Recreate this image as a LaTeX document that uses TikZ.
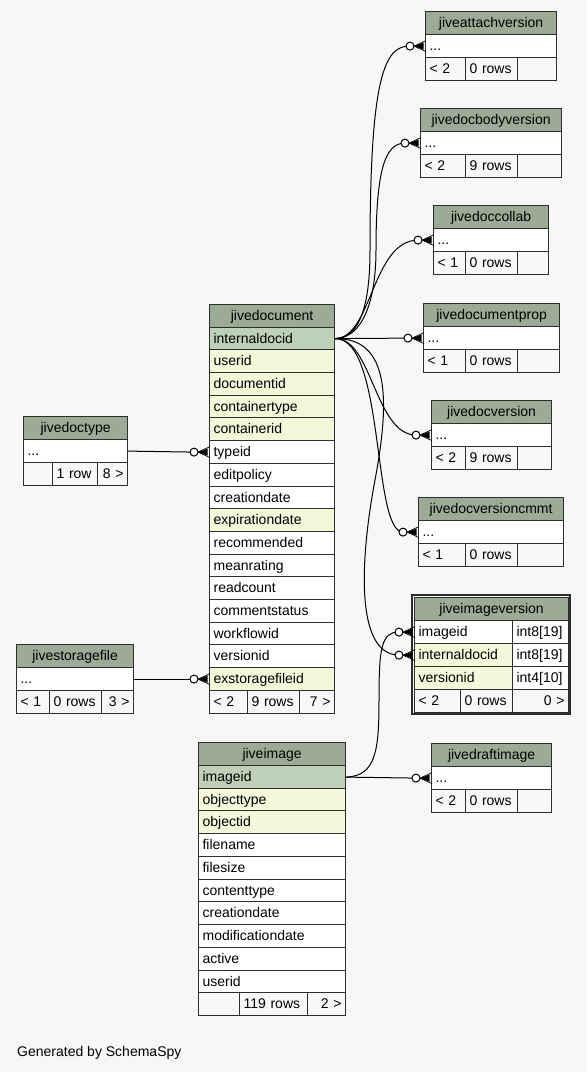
\documentclass[tikz,border=0pt]{standalone}
\usepackage{fontspec}
\setmainfont{Liberation Sans}
\usetikzlibrary{calc}
\definecolor{bgc}{HTML}{F7F7F7}
\definecolor{hdc}{HTML}{9BAB96}
\definecolor{pkc}{HTML}{BED1B8}
\definecolor{fkc}{HTML}{F4F7DA}
\definecolor{bdc}{HTML}{2E2E2E}
\tikzset{
 cellbox/.style={draw=bdc, line width=1.2pt, anchor=north west, inner xsep=4pt, inner ysep=0pt,
   text height=11pt, text depth=2pt, font=\fontsize{14}{16}\selectfont},
 conn/.style={draw=black, line width=1pt},
}
% #1 name #2 x #3 y #4 w #5 h #6 fill #7 align #8 text
\newcommand\tc[8]{%
 \pgfmathsetmacro\tw{#4-8}%
 \node[cellbox, fill=#6, align=#7, text width=\tw pt, minimum height=#5pt] (#1) at (#2,#3) {#8};}
\newcommand\hdr[5]{%
 \pgfmathsetmacro\hh{round(#3+\rh)-#3}%
 \tc{#1-h}{#2}{#3}{#4}{\hh}{hdc}{center}{#5}}
% #1 table #2 index #3 x #4 top #5 w #6 fill #7 text
\newcommand\rowc[7]{%
 \pgfmathsetmacro\yy{round(#4+#2*\rh)}%
 \pgfmathsetmacro\hh{round(#4+(#2+1)*\rh)-\yy}%
 \tc{#1-#2}{#3}{\yy}{#5}{\hh}{#6}{left}{#7}}
\newcommand\smalltab[5]{%
 \hdr{#1}{#2}{#3}{#4}{#5}%
 \rowc{#1}{1}{#2}{#3}{#4}{white}{...}}
% #1 name #2 x0 #3 y #4 d1 #5 d2 #6 x1 #7 t1 #8 t2 #9 t3
\newcommand\foot[9]{%
 \pgfmathsetmacro\fwa{#4-#2}\pgfmathsetmacro\fwb{#5-#4}\pgfmathsetmacro\fwc{#6-#5}%
 \tc{#1-fa}{#2}{#3}{\fwa}{\rh}{bgc}{left}{#7}%
 \tc{#1-fb}{#4}{#3}{\fwb}{\rh}{bgc}{left}{#8}%
 \tc{#1-fc}{#5}{#3}{\fwc}{\rh}{bgc}{right}{#9}}
\newcommand\crowpt[1]{\coordinate (#1-o) at ($(#1.west)+(-15,0)$);}
\newcommand\crow[1]{%
 \draw[conn, fill=white] (#1-o) circle (4pt);
 \fill[black] ($(#1.west)+(-11,0)$) -- ($(#1.west)+(-1.5,-3.5)$) -- ($(#1.west)+(-1.5,3.5)$) -- cycle;
 \draw[black, line width=0.7pt] ($(#1.west)+(-11,0)$) -- ($(#1.west)+(1,-5.5)$)
             ($(#1.west)+(-11,0)$) -- ($(#1.west)+(1,5.5)$);}
\begin{document}
\begin{tikzpicture}[x=1pt,y=-1pt]
\useasboundingbox (0,0) rectangle (587,1072);
\fill[bgc] (0,0) rectangle (587,1072);

\def\rh{23}
\smalltab{att}{425}{11}{131}{jiveattachversion}
\foot{att}{425}{57}{465}{517}{556}{< 2}{0 rows}{}
\smalltab{dbv}{420}{108}{141}{jivedocbodyversion}
\foot{dbv}{420}{154}{465}{517}{561}{< 2}{9 rows}{}
\smalltab{col}{433}{205}{115}{jivedoccollab}
\foot{col}{433}{251}{465}{517}{548}{< 1}{0 rows}{}
\smalltab{dp}{423}{303}{136}{jivedocumentprop}
\foot{dp}{423}{349}{465}{517}{559}{< 1}{0 rows}{}
\smalltab{dv}{431}{400}{120}{jivedocversion}
\foot{dv}{431}{446}{465}{517}{551}{< 2}{9 rows}{}
\smalltab{dvc}{418}{497}{145}{jivedocversioncmmt}
\foot{dvc}{418}{543}{465}{517}{563}{< 1}{0 rows}{}
\smalltab{dfi}{431}{743}{120}{jivedraftimage}
\foot{dfi}{431}{789}{465}{517}{551}{< 2}{0 rows}{}
\smalltab{dt}{23}{416}{104}{jivedoctype}
\foot{dt}{23}{462}{52}{97}{127}{}{1 row}{8 >}
\smalltab{sf}{16}{644}{117}{jivestoragefile}
\foot{sf}{16}{690}{49}{101}{133}{< 1}{0 rows}{3 >}

% jiveimageversion
\hdr{iv}{414}{597}{154}{jiveimageversion}
\tc{iv-1}{414}{620}{98}{23}{white}{left}{imageid}
\tc{iv-1t}{512}{620}{56}{23}{white}{left}{int8[19]}
\tc{iv-2}{414}{643}{98}{23}{fkc}{left}{internaldocid}
\tc{iv-2t}{512}{643}{56}{23}{white}{left}{int8[19]}
\tc{iv-3}{414}{666}{98}{23}{fkc}{left}{versionid}
\tc{iv-3t}{512}{666}{56}{23}{white}{left}{int4[10]}
\foot{iv}{414}{689}{460}{512}{568}{< 2}{0 rows}{0 >}
\draw[bdc, line width=2.5pt] (412,595.2) rectangle (570,714);

% jivedocument
\def\rh{22.7}
\hdr{doc}{209}{304}{125}{jivedocument}
\rowc{doc}{1}{209}{304}{125}{pkc}{internaldocid}
\rowc{doc}{2}{209}{304}{125}{fkc}{userid}
\rowc{doc}{3}{209}{304}{125}{fkc}{documentid}
\rowc{doc}{4}{209}{304}{125}{fkc}{containertype}
\rowc{doc}{5}{209}{304}{125}{fkc}{containerid}
\rowc{doc}{6}{209}{304}{125}{white}{typeid}
\rowc{doc}{7}{209}{304}{125}{white}{editpolicy}
\rowc{doc}{8}{209}{304}{125}{white}{creationdate}
\rowc{doc}{9}{209}{304}{125}{fkc}{expirationdate}
\rowc{doc}{10}{209}{304}{125}{white}{recommended}
\rowc{doc}{11}{209}{304}{125}{white}{meanrating}
\rowc{doc}{12}{209}{304}{125}{white}{readcount}
\rowc{doc}{13}{209}{304}{125}{white}{commentstatus}
\rowc{doc}{14}{209}{304}{125}{white}{workflowid}
\rowc{doc}{15}{209}{304}{125}{white}{versionid}
\rowc{doc}{16}{209}{304}{125}{fkc}{exstoragefileid}
\foot{doc}{209}{690}{247}{299}{334}{< 2}{9 rows}{7 >}

% jiveimage
\def\rh{22.75}
\hdr{img}{198}{742}{147}{jiveimage}
\rowc{img}{1}{198}{742}{147}{pkc}{imageid}
\rowc{img}{2}{198}{742}{147}{fkc}{objecttype}
\rowc{img}{3}{198}{742}{147}{fkc}{objectid}
\rowc{img}{4}{198}{742}{147}{white}{filename}
\rowc{img}{5}{198}{742}{147}{white}{filesize}
\rowc{img}{6}{198}{742}{147}{white}{contenttype}
\rowc{img}{7}{198}{742}{147}{white}{creationdate}
\rowc{img}{8}{198}{742}{147}{white}{modificationdate}
\rowc{img}{9}{198}{742}{147}{white}{active}
\rowc{img}{10}{198}{742}{147}{white}{userid}
\foot{img}{198}{992}{239}{307}{345}{}{119 rows}{2 >}

% crow end points
\crowpt{att-1}\crowpt{dbv-1}\crowpt{col-1}\crowpt{dp-1}\crowpt{dv-1}\crowpt{dvc-1}
\crowpt{dfi-1}\crowpt{iv-1}\crowpt{iv-2}\crowpt{doc-6}\crowpt{doc-16}

% connectors
\draw[conn] (doc-1.east) .. controls (360,338) and (370,305) .. (370,250) .. controls (370,75) and (385,45.5) .. (att-1-o);
\draw[conn] (doc-1.east) .. controls (363,338) and (376,300) .. (376,250) .. controls (376,170) and (385,143) .. (dbv-1-o);
\draw[conn] (doc-1.east) .. controls (372,338) and (372,240.5) .. (col-1-o);
\draw[conn] (doc-1.east) -- (dp-1-o);
\draw[conn] (doc-1.east) .. controls (372,338) and (375,434.5) .. (dv-1-o);
\draw[conn] (doc-1.east) .. controls (385,338) and (372,532) .. (dvc-1-o);
\draw[conn] (doc-1.east) .. controls (390,338) and (390,400) .. (375,480) .. controls (360,560) and (355,654.5) .. (iv-2-o);
\draw[conn] (img-1.east) .. controls (376,776) and (379,750) .. (379,700) .. controls (379,650) and (381,631.5) .. (iv-1-o);
\draw[conn] (img-1.east) -- (dfi-1-o);
\draw[conn] (dt-1.east) -- (doc-6-o);
\draw[conn] (sf-1.east) -- (doc-16-o);

\crow{att-1}\crow{dbv-1}\crow{col-1}\crow{dp-1}\crow{dv-1}\crow{dvc-1}
\crow{dfi-1}\crow{iv-1}\crow{iv-2}\crow{doc-6}\crow{doc-16}

\node[anchor=base west, inner sep=0pt, font=\fontsize{14}{16}\selectfont] (gen) at (17,1056) {Generated by SchemaSpy};
\end{tikzpicture}
\end{document}
